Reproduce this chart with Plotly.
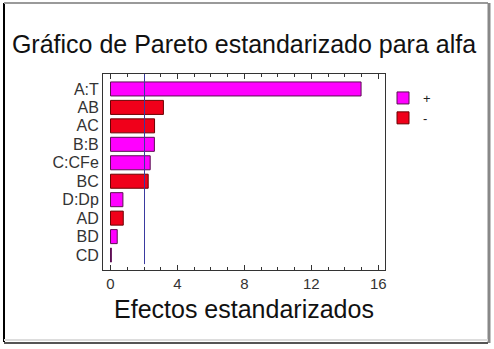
import plotly.graph_objects as go

categories = ["A:T", "AB", "AC", "B:B", "C:CFe", "BC", "D:Dp", "AD", "BD", "CD"]
effects = [14.97, 3.16, 2.63, 2.62, 2.37, 2.25, 0.74, 0.76, 0.40, 0.05]
signs = ["+", "-", "-", "+", "+", "-", "+", "-", "+", "+"]
critical_value = 2.03
x_ticks = [0, 4, 8, 12, 16]

W, H = 494, 349
L, R, T, B = 103, 385, 74, 270

pos_cat = [c for c, s in zip(categories, signs) if s == "+"]
pos_val = [v for v, s in zip(effects, signs) if s == "+"]
neg_cat = [c for c, s in zip(categories, signs) if s == "-"]
neg_val = [v for v, s in zip(effects, signs) if s == "-"]

fig = go.Figure()
fig.add_trace(go.Bar(y=pos_cat, x=pos_val, orientation="h", name="+",
                     marker=dict(color="#FF00FF", line=dict(color="#5A1050", width=1)),
                     width=0.76))
fig.add_trace(go.Bar(y=neg_cat, x=neg_val, orientation="h", name="-",
                     marker=dict(color="#F0001A", line=dict(color="#6A0000", width=1)),
                     width=0.76))

fig.add_shape(type="line", xref="x", yref="paper", x0=critical_value, x1=critical_value,
              y0=0.03, y1=1, line=dict(color="#3A3AA0", width=1))

def px(x):
    return (x - L) / (R - L)

def py(y):
    return (B - y) / (B - T)

# window border
border = [
    (4, 3, 4, 342, "#000000", 2),
    (4, 3, 488, 3, "#9A9A9A", 2),
    (489, 3, 489, 343, "#888888", 3),
    (4, 340, 488, 340, "#DDDDDD", 2),
    (4, 343, 488, 343, "#555555", 2),
]
for x0, y0, x1, y1, c, w in border:
    fig.add_shape(type="line", xref="paper", yref="paper",
                  x0=px(x0), y0=py(y0), x1=px(x1), y1=py(y1),
                  line=dict(color=c, width=w))

fig.update_layout(
    width=W, height=H,
    margin=dict(l=L, r=W - R, t=T, b=H - B, autoexpand=False),
    paper_bgcolor="white", plot_bgcolor="white",
    font=dict(family="Liberation Sans, Arial, sans-serif", color="#222222"),
    title=dict(text="Gráfico de Pareto estandarizado para alfa", x=0.5, xref="paper",
               xanchor="center", y=1 - 44 / H, yanchor="middle",
               font=dict(size=25, color="#111111")),
    barmode="overlay",
    bargap=0.24,
    showlegend=True,
    legend=dict(x=px(383), y=py(83), xanchor="left", yanchor="top",
                traceorder="normal", font=dict(size=13, color="#222222"),
                bgcolor="rgba(0,0,0,0)", itemwidth=30, tracegroupgap=0),
    xaxis=dict(range=[-0.45, 16.4], tickvals=x_ticks, ticks="inside", ticklen=5,
               tickcolor="#333333", showline=True, linecolor="#333333", linewidth=1,
               mirror="allticks", showgrid=False, zeroline=False,
               tickfont=dict(size=15, color="#333333"),
               minor=dict(dtick=1, ticks="inside", ticklen=3, tickcolor="#333333", showgrid=False),
               title=dict(text="Efectos estandarizados", font=dict(size=25, color="#111111"),
                          standoff=9)),
    yaxis=dict(categoryorder="array", categoryarray=categories,
               tickmode="array", tickvals=categories, ticktext=categories,
               range=[9.81, -0.81], showline=True, linecolor="#333333", linewidth=1,
               mirror=True, showgrid=False, ticks="", ticklen=0,
               tickfont=dict(size=16, color="#333333")),
)

fig.write_html("out.html", config={"displayModeBar": False},
               post_script="document.body.style.margin='0';document.body.style.overflow='hidden';")
